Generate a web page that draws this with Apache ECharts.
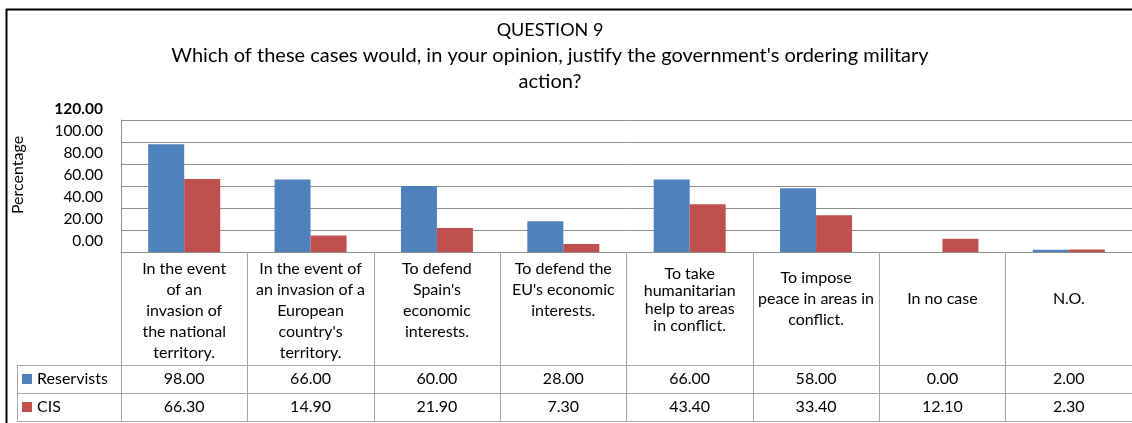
<!DOCTYPE html>
<html>
<head>
<meta charset="utf-8">
<script src="https://cdn.jsdelivr.net/npm/echarts@6/dist/echarts.min.js"></script>
<style>
html,body{margin:0;padding:0;background:#fff;}
#chart{width:1132px;height:423px;}
</style>
</head>
<body>
<div id="chart"></div>
<script>
const titleMain = "QUESTION 9";
const titleSub = "Which of these cases would, in your opinion, justify the government's ordering military\naction?";
const categories = [
  "In the event\nof an\ninvasion of\nthe national\nterritory.",
  "In the event of\nan invasion of a\nEuropean\ncountry's\nterritory.",
  "To defend\nSpain's\neconomic\ninterests.",
  "To defend the\nEU's economic\ninterests.",
  "To take\nhumanitarian\nhelp to areas\nin conflict.",
  "To impose\npeace in areas in\nconflict.",
  "In no case",
  "N.O."
];
const seriesNames = ["Reservists", "CIS"];
const reservists = [98.00, 66.00, 60.00, 28.00, 66.00, 58.00, 0.00, 2.00];
const cis = [66.30, 14.90, 21.90, 7.30, 43.40, 33.40, 12.10, 2.30];
const yTicks = [0, 20, 40, 60, 80, 100, 120];

const FONT = 'Lato';
const GRID = '#8e8e8e';
const TABLE = '#a6a6a6';
const colors = ['#4F81BD', '#C0504D'];

// per-cell text placement inside the header row (style only)
const headerCellStyle = [
  {}, {}, {}, {},
  {lineHeight: 17.5, padding: [7, 0, 0, 0]},
  {padding: [9, 0, 0, 0]},
  {padding: [30, 0, 0, 0]},
  {padding: [30, 0, 0, 0]}
];

const chart = echarts.init(document.getElementById('chart'), null, {renderer: 'canvas'});

function rowAxis(values, offset) {
  return {
    type: 'category', gridIndex: 0, position: 'bottom', offset: offset,
    data: values.map(v => v.toFixed(2)),
    axisLine: {show: true, lineStyle: {color: TABLE, width: 1}},
    axisTick: {show: false},
    axisLabel: {show: true, interval: 0, color: '#000', fontFamily: FONT, fontSize: 16,
      verticalAlign: 'middle', margin: 14},
    splitLine: {show: false}
  };
}

const option = {
  backgroundColor: '#fff',
  animation: false,
  color: colors,
  title: {
    text: '{a|' + titleMain + '}\n' + titleSub.split('\n').map(s => '{b|' + s + '}').join('\n'),
    left: 545, top: 12, textAlign: 'center',
    textStyle: {
      fontFamily: FONT, fontSize: 18, fontWeight: 'normal', color: '#000', lineHeight: 26,
      rich: {
        a: {fontFamily: FONT, fontSize: 18, color: '#000', lineHeight: 26},
        b: {fontFamily: FONT, fontSize: 20, color: '#000', lineHeight: 26}
      }
    }
  },
  legend: {
    orient: 'vertical', left: 22, top: 370, padding: 0,
    itemWidth: 10, itemHeight: 10, itemGap: 10, icon: 'rect',
    data: seriesNames,
    textStyle: {fontFamily: FONT, fontSize: 16, color: '#000', lineHeight: 18}
  },
  grid: {left: 121, top: 120, width: 1015, height: 132, containLabel: false},
  xAxis: [
    {
      type: 'category', gridIndex: 0, position: 'bottom',
      data: categories.map((c, i) => ({value: c, textStyle: headerCellStyle[i]})),
      axisLine: {show: true, lineStyle: {color: GRID, width: 1}},
      axisTick: {show: true, interval: 0, length: 169, lineStyle: {color: TABLE, width: 1}},
      axisLabel: {show: true, interval: 0, color: '#000', fontFamily: FONT, fontSize: 16,
        lineHeight: 21, verticalAlign: 'top', margin: 6, align: 'center'}
    },
    rowAxis(reservists, 113),
    rowAxis(cis, 141),
    {
      type: 'category', gridIndex: 0, position: 'bottom', offset: 169, data: categories,
      axisLine: {show: true, lineStyle: {color: TABLE, width: 1}},
      axisTick: {show: false}, axisLabel: {show: false}
    }
  ],
  yAxis: {
    type: 'value', min: yTicks[0], max: yTicks[yTicks.length - 1], interval: 20,
    name: 'Percentage', nameLocation: 'middle', nameGap: 95, nameRotate: 90,
    nameTextStyle: {fontFamily: FONT, fontSize: 16, color: '#000', padding: [0, 0, 0, 22]},
    axisLine: {show: true, lineStyle: {color: GRID, width: 1}},
    axisTick: {show: false},
    axisLabel: {
      color: '#000', fontFamily: FONT, fontSize: 15.5, margin: 18,
      padding: [0, 0, 22, 0], verticalAlign: 'middle',
      formatter: v => v === yTicks[yTicks.length - 1] ? '{b|' + v.toFixed(2) + '}' : v.toFixed(2),
      rich: {b: {fontFamily: FONT, fontSize: 15.5, fontWeight: 'bold', color: '#000'}}
    },
    splitLine: {show: true, lineStyle: {color: GRID, width: 1}}
  },
  series: [
    {name: seriesNames[0], type: 'bar', data: reservists, barWidth: 36, barGap: '0%', xAxisIndex: 0,
      itemStyle: {color: colors[0]}},
    {name: seriesNames[1], type: 'bar', data: cis, barWidth: 36, barGap: '0%', xAxisIndex: 0,
      itemStyle: {color: colors[1]}}
  ],
  graphic: [
    {type: 'line', shape: {x1: 6, y1: 9.5, x2: 1132, y2: 9.5}, style: {stroke: '#000', lineWidth: 2}, silent: true},
    {type: 'line', shape: {x1: 6.5, y1: 9, x2: 6.5, y2: 423}, style: {stroke: '#000', lineWidth: 2}, silent: true},
    {type: 'line', shape: {x1: 17, y1: 365.5, x2: 121, y2: 365.5}, style: {stroke: TABLE, lineWidth: 1}, silent: true},
    {type: 'line', shape: {x1: 17, y1: 393.5, x2: 121, y2: 393.5}, style: {stroke: TABLE, lineWidth: 1}, silent: true},
    {type: 'line', shape: {x1: 17, y1: 421.5, x2: 121, y2: 421.5}, style: {stroke: TABLE, lineWidth: 1}, silent: true},
    {type: 'line', shape: {x1: 17.5, y1: 365, x2: 17.5, y2: 422}, style: {stroke: TABLE, lineWidth: 1}, silent: true}
  ]
};
chart.setOption(option);
</script>
</body>
</html>
